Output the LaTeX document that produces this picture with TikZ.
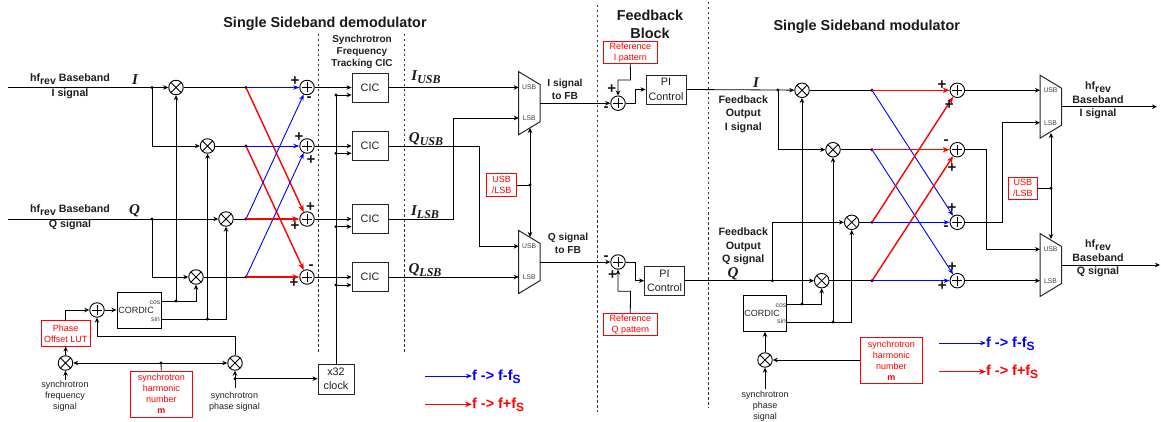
\documentclass[tikz,border=0pt]{standalone}
\usepackage{fontspec}
\setmainfont{Liberation Sans}
\newfontfamily\mathbi{Liberation Serif}
\usetikzlibrary{arrows.meta,calc}
\newcommand{\fz}[2]{\fontsize{#1}{#2}\selectfont}
\newcommand{\lowt}[2]{\raisebox{-0.22em}{\fz{#1}{#1}#2}}
\newcommand{\hfrev}{hf\lowt{10.5}{rev}}
\newcommand{\sigl}[2]{\mathbi\bfseries\itshape #1\lowt{12}{#2}}
\definecolor{txt}{gray}{0.12}
\tikzset{
  wire/.style={draw=black,line width=0.8pt},
  ar/.style={wire,-{Stealth[length=5pt,width=4.5pt]}},
  arb/.style={wire,{Stealth[length=5pt,width=4.5pt]}-{Stealth[length=5pt,width=4.5pt]}},
  bl/.style={draw=blue,line width=0.9pt,-{Stealth[length=6pt,width=4.5pt]}},
  rd/.style={draw=red,line width=1.4pt,-{Stealth[length=7pt,width=5.5pt]}},
  box/.style={draw=black!85,line width=0.9pt,fill=white,inner sep=0pt,align=center,font=\fz{10.8}{14.5},text=txt},
  redbox/.style={draw=red,line width=0.9pt,fill=white,inner sep=0pt,align=center,font=\fz{9}{11},text=red},
  blk/.style={draw=black,line width=1pt,fill=white,inner sep=0pt},
  mult/.style={circle,draw=black,line width=0.9pt,fill=white,minimum size=14.5pt,inner sep=0pt,
    path picture={\draw[line width=0.8pt] (path picture bounding box.north west)--(path picture bounding box.south east)
      (path picture bounding box.north east)--(path picture bounding box.south west);}},
  adder/.style={circle,draw=black,line width=0.9pt,fill=white,minimum size=14.5pt,inner sep=0pt,
    path picture={\draw[line width=0.8pt] ([xshift=-5pt]path picture bounding box.center)--([xshift=5pt]path picture bounding box.center)
      ([yshift=-5pt]path picture bounding box.center)--([yshift=5pt]path picture bounding box.center);}},
  jn/.style={circle,fill=black,inner sep=0pt,minimum size=3.2pt},
  lab/.style={inner sep=0pt,align=center,font=\bfseries\fz{10.7}{13.4},text=txt},
  smallt/.style={inner sep=0pt,align=center,font=\fz{9}{11},text=txt},
  port/.style={inner sep=0pt,font=\fz{6.8}{7},text=black!75},
  ttl/.style={inner sep=0pt,align=center,font=\bfseries\fz{14.4}{18},text=black!90},
  sgn/.style={inner sep=0pt,font=\bfseries\fz{15}{15},text=black!90},
  sym/.style={inner sep=0pt,font=\fz{15}{15},text=black!90},
  sep/.style={draw=black!80,line width=0.7pt,dash pattern=on 2.5pt off 2.5pt},
  leg/.style={inner sep=0pt,anchor=west,font=\bfseries\fz{14.4}{16}},
}
% mux: name, x-left, y-centre, port usb y, port lsb y
\newcommand{\mymux}[5]{%
  \coordinate (#1nw) at (#2,#3-31.5); \coordinate (#1sw) at (#2,#3+31.5);
  \coordinate (#1ne) at (#2+21.5,#3-18.5); \coordinate (#1se) at (#2+21.5,#3+18.5);
  \coordinate (#1out) at (#2+21.5,#3); \coordinate (#1u) at (#2,#4); \coordinate (#1l) at (#2,#5);
  \draw[fill=white,draw=black!85,line width=1pt] (#1nw)--(#1ne)--(#1se)--(#1sw)--cycle;
  \node[port] (#1ut) at (#2+10.5,#4) {USB};
  \node[port] (#1lt) at (#2+10.5,#5) {LSB};
}
\begin{document}
\begin{tikzpicture}[x=1pt,y=-1pt]
\useasboundingbox (0,0) rectangle (1161,422);
% separators
\coordinate (d1a) at (318.5,34); \coordinate (d1b) at (318.5,353);
\coordinate (d2a) at (404,34); \coordinate (d2b) at (404,353);
\coordinate (d3a) at (597,5); \coordinate (d3b) at (597,412);
\coordinate (d4a) at (708,2); \coordinate (d4b) at (708,408);
\draw[sep] (d1a)--(d1b); \draw[sep] (d2a)--(d2b); \draw[sep] (d3a)--(d3b); \draw[sep] (d4a)--(d4b);
% titles
\node[ttl] (t1) at (325,24) {Single Sideband demodulator};
\node[ttl] (t2) at (650,24) {Feedback\\Block};
\node[ttl] (t3) at (866.7,27) {Single Sideband modulator};
\node[lab,font=\bfseries\fz{10}{12}] (t4) at (362,52) {Synchrotron\\Frequency\\Tracking CIC};
% ===== demodulator =====
\coordinate (inI) at (8,87.5); \coordinate (inQ) at (8,219);
\node[mult] (m1) at (176,87.5) {};
\node[mult] (m2) at (207.5,146) {};
\node[mult] (m3) at (226,219) {};
\node[mult] (m4) at (196,277) {};
\node[jn] (jI) at (152,87.5) {}; \node[jn] (jQ) at (152,219) {};
\node[jn] (x1) at (246,87.5) {}; \node[jn] (x2) at (246,146) {};
\node[jn] (x3) at (246,219) {}; \node[jn] (x4) at (246,277) {};
\node[adder] (s1) at (307,87.5) {}; \node[adder] (s2) at (307,146) {};
\node[adder] (s3) at (307,219) {}; \node[adder] (s4) at (307,277) {};
\node[box,minimum width=36pt,minimum height=29pt] (c1) at (370,87.5) {CIC};
\node[box,minimum width=36pt,minimum height=29pt] (c2) at (370,146) {CIC};
\node[box,minimum width=36pt,minimum height=29pt] (c3) at (370,219) {CIC};
\node[box,minimum width=36pt,minimum height=29pt] (c4) at (370,277) {CIC};
\node[box,minimum width=36pt,minimum height=30pt] (clk) at (336,379) {x32\\clock};
\node[blk,minimum width=44pt,minimum height=36pt] (cd) at (139,310) {};
\node[inner sep=0pt,font=\fz{9}{10},text=black!85] (cdt) at (136,310) {CORDIC};
\node[port] (cdc) at (155,302.7) {cos}; \node[port] (cds) at (155.5,318.7) {sin};
\coordinate (cdco) at (161,301); \coordinate (cdso) at (161,319);
\node[jn] (jc) at (176,301) {}; \node[jn] (js) at (207.5,319) {};
\node[adder] (a0) at (97,310) {};
\node[redbox,minimum width=48.5pt,minimum height=25.5pt] (lut) at (65.7,333.3) {Phase\\Offset LUT};
\node[mult] (m5) at (65.5,363) {}; \node[mult] (m6) at (235,363) {};
\node[jn] (jm) at (161,363) {};
\node[redbox,minimum width=61.5pt,minimum height=46pt] (hn) at (161.3,394) {synchrotron\\harmonic\\number\\\textbf{m}};
\node[smallt] (sf) at (65,396) {synchrotron\\frequency\\signal};
\node[smallt] (sp) at (234.5,401.5) {synchrotron\\phase signal};
\coordinate (sfi) at (65.5,380); \node[jn] (jp) at (235,378.7) {}; \coordinate (spi) at (235,388);
\coordinate (bend0) at (97,336.7);
\draw[wire] (inI)--(jI.center); \draw[ar] (jI.center)--(m1); \draw[ar] (jI.center)|-(m2);
\draw[wire] (inQ)--(jQ.center); \draw[ar] (jQ.center)--(m3); \draw[ar] (jQ.center)|-(m4);
\draw[wire] (cdco)--(jc.center); \draw[ar] (jc.center)-|(m4); \draw[ar] (jc.center)--(m1);
\draw[wire] (cdso)--(js.center); \draw[ar] (js.center)-|(m3); \draw[ar] (js.center)--(m2);
\draw[wire] (m1)--(x1.center); \draw[wire] (m2)--(x2.center); \draw[wire] (m3)--(x3.center); \draw[wire] (m4)--(x4.center);
\draw[rd] (x1.center)--(s3); \draw[rd] (x2.center)--(s4);
\draw[bl] (x3.center)--(s1); \draw[bl] (x4.center)--(s2);
\draw[bl] (x1.center)--(s1); \draw[bl] (x2.center)--(s2);
\draw[rd] (x3.center)--(s3); \draw[rd] (x4.center)--(s4);
\draw[ar] (s1)--(c1); \draw[ar] (s2)--(c2); \draw[ar] (s3)--(c3); \draw[ar] (s4)--(c4);
\node[jn] (k1) at (336,95) {}; \node[jn] (k2) at (336,153.3) {};
\node[jn] (k3) at (336,226.7) {}; \node[jn] (k4) at (336,285) {};
\draw[wire] (clk.north)--(k1.center);
\draw[ar] (k1.center)--(k1-|c1.west); \draw[ar] (k2.center)--(k2-|c2.west);
\draw[ar] (k3.center)--(k3-|c3.west); \draw[ar] (k4.center)--(k4-|c4.west);
\draw[ar] (a0)--(cd.west);
\draw[ar] (lut.north)|-(a0);
\draw[ar] (m5)--(lut.south);
\draw[arb] (m5)--(m6);
\draw[wire] (hn.north)--(jm.center);
\draw[ar] (sfi)--(m5); \draw[ar] (spi)--(m6);
\draw[ar] (jp.center)--(jp-|clk.west);
\draw[ar] (m6.north)|-(bend0)--(a0.south);
% demod texts
\node[lab] (h1) at (70,86.5) {\hfrev{} Baseband\\[1.5pt]I signal};
\node[lab] (h2) at (70,217.5) {\hfrev{} Baseband\\[1.5pt]Q signal};
\node[sym] (lI) at (135,80) {\mathbi\bfseries\itshape I};
\node[sym] (lQ) at (134.5,211) {\mathbi\bfseries\itshape Q};
\node[sgn] (p1) at (295,81) {+}; \node[sgn] (p2) at (309,99) {-};
\node[sgn] (p3) at (299,137) {+}; \node[sgn] (p4) at (311,160) {+};
\node[sgn] (p5) at (310.5,207) {+}; \node[sgn] (p6) at (295,225.7) {+};
\node[sgn] (p7) at (311,266.7) {-}; \node[sgn] (p8) at (294,283) {+};
\node[sym] (lIU) at (426,77) {\sigl{I}{USB}};
\node[sym] (lQU) at (426,139) {\sigl{Q}{USB}};
\node[sym] (lIL) at (425,212) {\sigl{I}{LSB}};
\node[sym] (lQL) at (425,270) {\sigl{Q}{LSB}};
% ===== muxes demod =====
\mymux{mA}{518.7}{103.2}{87.5}{118}
\mymux{mB}{518.7}{262}{246.3}{277}
\coordinate (b1) at (479,146); \coordinate (b2) at (453.3,219);
\draw[ar] (c1.east)--(mAu);
\draw[ar] (c2.east)--(b1)|-(mBu);
\draw[ar] (c3.east)--(b2)|-(mAl);
\draw[ar] (c4.east)--(mBl);
\node[redbox,minimum width=30pt,minimum height=22.3pt] (ul1) at (501.7,185) {USB\\/LSB};
\node[jn] (ju1) at (530,185) {};
\coordinate (ma1) at (530,128); \coordinate (ma2) at (530,237);
\draw[wire] (ul1.east)--(ju1.center);
\draw[arb] (ma2)--(ma1);
\node[lab,font=\bfseries\fz{10.2}{13}] (tA) at (565,89.5) {I signal\\to FB};
\node[lab,font=\bfseries\fz{10.2}{13}] (tB) at (568,243.5) {Q signal\\to FB};
% ===== feedback =====
\node[adder] (fI) at (618,103.2) {}; \node[adder] (fQ) at (618,262) {};
\node[box,minimum width=40pt,minimum height=29pt] (pi1) at (666,89.5) {PI\\Control};
\node[box,minimum width=40pt,minimum height=29pt] (pi2) at (664.5,280.7) {PI\\Control};
\node[redbox,minimum width=54pt,minimum height=21.6pt] (rI) at (630.3,52.5) {Reference\\I pattern};
\node[redbox,minimum width=54pt,minimum height=22pt] (rQ) at (630.3,324.3) {Reference\\Q pattern};
\coordinate (r1) at (630.5,80); \coordinate (r2) at (618,80);
\coordinate (r3) at (630.5,291.3); \coordinate (r4) at (618,291.3);
\coordinate (q1) at (635.5,103.2); \coordinate (q2) at (635.5,89.5);
\coordinate (q3) at (635.5,262); \coordinate (q4) at (635.5,280.7);
\draw[ar] (mAout)--(fI);
\draw[ar] (mBout)--(fQ);
\draw[ar] (rI.south)--(r1)--(r2)--(fI);
\draw[ar] (rQ.north)--(r3)--(r4)--(fQ);
\draw[ar] (fI)--(q1)--(q2)--(pi1);
\draw[ar] (fQ)--(q3)--(q4)--(pi2);
\node[sgn] (f1) at (611.7,89) {+}; \node[sgn] (f2) at (606,108.7) {-};
\node[sgn] (f3) at (606,257.7) {-}; \node[sgn] (f4) at (612.5,275) {+};
% ===== modulator =====
\node[mult] (n1) at (802,90.3) {}; \node[mult] (n2) at (833,149.7) {};
\node[mult] (n3) at (851.7,222.3) {}; \node[mult] (n4) at (821.7,280.7) {};
\node[jn] (jmI) at (778,90) {}; \node[jn] (jmQ) at (772.3,280.7) {};
\node[jn] (y1) at (872,90.3) {}; \node[jn] (y2) at (872,149.7) {};
\node[jn] (y3) at (872,222.3) {}; \node[jn] (y4) at (872,280.7) {};
\node[adder] (u1) at (957.3,90.3) {}; \node[adder] (u2) at (957.3,149.7) {};
\node[adder] (u3) at (957.3,222.3) {}; \node[adder] (u4) at (957.3,280.7) {};
\node[blk,minimum width=43.4pt,minimum height=36.3pt] (ce) at (765,313.2) {};
\node[inner sep=0pt,font=\fz{9}{10},text=black!85] (cet) at (762,313) {CORDIC};
\node[port] (cec) at (781,305.5) {cos}; \node[port] (ces) at (781.5,321.5) {sin};
\coordinate (ceco) at (786.7,304); \coordinate (ceso) at (786.7,322);
\node[jn] (jec) at (802,304) {}; \node[jn] (jes) at (833,322) {};
\node[mult] (n5) at (765,360) {};
\coordinate (spm) at (765,388.7);
\node[redbox,minimum width=61.3pt,minimum height=45.6pt] (hn2) at (891.3,360.5) {synchrotron\\harmonic\\number\\\textbf{m}};
\node[smallt] (sp2) at (765,406) {synchrotron\\phase\\signal};
\draw[wire] (pi1.east)--(jmI.center); \draw[ar] (jmI.center)--(n1); \draw[ar] (jmI.center)|-(n2);
\draw[wire] (pi2.east)--(jmQ.center); \draw[ar] (jmQ.center)--(n4); \draw[ar] (jmQ.center)|-(n3);
\draw[wire] (ceco)--(jec.center); \draw[ar] (jec.center)-|(n4); \draw[ar] (jec.center)--(n1);
\draw[wire] (ceso)--(jes.center); \draw[ar] (jes.center)-|(n3); \draw[ar] (jes.center)--(n2);
\draw[wire] (n1)--(y1.center); \draw[wire] (n2)--(y2.center); \draw[wire] (n3)--(y3.center); \draw[wire] (n4)--(y4.center);
\draw[bl] (y1.center)--(u3); \draw[bl] (y2.center)--(u4);
\draw[rd] (y3.center)--(u1); \draw[rd] (y4.center)--(u2);
\draw[rd] (y1.center)--(u1); \draw[rd] (y2.center)--(u2);
\draw[bl] (y3.center)--(u3); \draw[bl] (y4.center)--(u4);
\draw[ar] (n5)--(ce.south); \draw[ar] (spm)--(n5);
\draw[ar] (hn2.west|-n5)--(n5);
\mymux{mC}{1040}{106.7}{90.3}{122.7}
\mymux{mD}{1040}{265}{249.3}{280.7}
\coordinate (e1) at (986.7,149.7); \coordinate (e2) at (1002.7,222.3);
\coordinate (o1) at (1157,106.7); \coordinate (o2) at (1160,265);
\draw[ar] (u1)--(mCu);
\draw[ar] (u2)--(e1)|-(mDu);
\draw[ar] (u3)--(e2)|-(mCl);
\draw[ar] (u4)--(mDl);
\draw[ar] (mCout)--(o1); \draw[ar] (mDout)--(o2);
\node[redbox,minimum width=29.7pt,minimum height=22pt] (ul2) at (1022.8,188.3) {USB\\/LSB};
\node[jn] (ju2) at (1051,188.3) {};
\coordinate (mc1) at (1051,133); \coordinate (mc2) at (1051,239);
\draw[wire] (ul2.east)--(ju2.center);
\draw[arb] (mc2)--(mc1);
\node[lab] (to1) at (1098,100.5) {\hfrev\\Baseband\\I signal};
\node[lab] (to2) at (1098,258.5) {\hfrev\\Baseband\\Q signal};
\node[lab] (tf1) at (743.3,114) {Feedback\\Output\\I signal};
\node[lab] (tf2) at (743.3,246.5) {Feedback\\Output\\Q signal};
\node[sym] (lI2) at (756,83) {\mathbi\bfseries\itshape I};
\node[sym] (lQ2) at (733,273.5) {\mathbi\bfseries\itshape Q};
\node[sgn] (g1) at (942,85) {+}; \node[sgn] (g2) at (949.3,105) {+};
\node[sgn] (g3) at (946,141.7) {-}; \node[sgn] (g4) at (952,168.3) {+};
\node[sgn] (g5) at (952,208) {+}; \node[sgn] (g6) at (946,227.7) {-};
\node[sgn] (g7) at (952.3,267.3) {+}; \node[sgn] (g8) at (942.3,286) {+};
% legends
\node[leg,text=blue] (ll1) at (472,376.5) {f -> f-f\lowt{12}{S}};
\node[leg,text=red] (ll2) at (472,404.5) {f -> f+f\lowt{12}{S}};
\node[leg,text=blue] (lr1) at (986,343.5) {f -> f-f\lowt{12}{S}};
\node[leg,text=red] (lr2) at (986,372) {f -> f+f\lowt{12}{S}};
\coordinate (la1) at (425,376); \coordinate (la2) at (425,404.3);
\coordinate (lb1) at (939.3,343); \coordinate (lb2) at (939.3,371.7);
\draw[bl] (la1)--(la1-|ll1.west); \draw[rd] (la2)--(la2-|ll2.west);
\draw[bl] (lb1)--(lb1-|lr1.west); \draw[rd] (lb2)--(lb2-|lr2.west);
\end{tikzpicture}
\end{document}
